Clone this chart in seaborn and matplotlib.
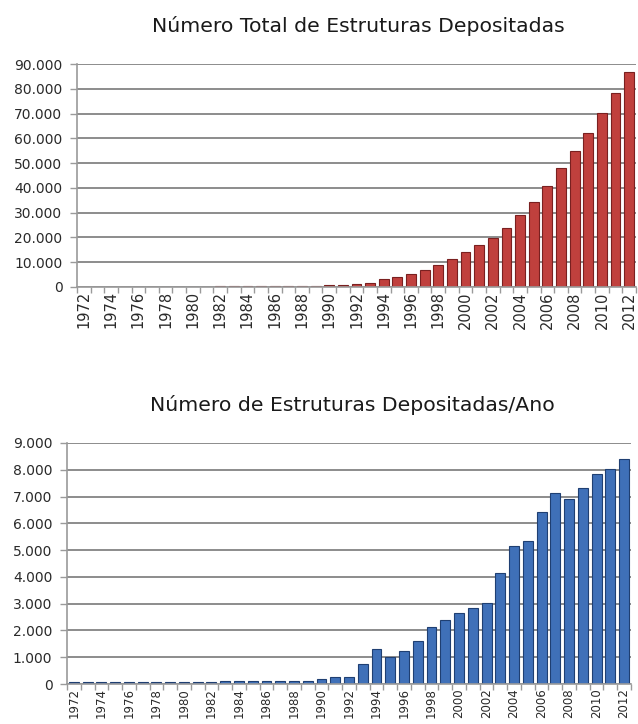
import matplotlib
matplotlib.use("Agg")
import matplotlib.pyplot as plt
import seaborn as sns
import pandas as pd
import numpy as np
from matplotlib.ticker import FuncFormatter, FixedLocator

years = [str(y) for y in range(1972, 2013)]

total_structures = [13, 20, 30, 40, 60, 80, 100, 120, 150, 180, 210, 250, 290, 330,
                    380, 430, 500, 600, 800, 950, 1200, 1750, 3300, 4200, 5200, 6900,
                    8900, 11300, 14000, 16800, 19800, 24000, 29000, 34300, 40900,
                    48000, 54900, 62200, 70400, 78200, 86700]

yearly_structures = [60, 60, 70, 70, 80, 80, 80, 80, 90, 90, 90, 100, 100, 100, 100,
                     100, 100, 110, 200, 250, 250, 750, 1320, 1000, 1220, 1610, 2110,
                     2400, 2660, 2850, 3040, 4160, 5160, 5340, 6440, 7150, 6920,
                     7320, 7850, 8020, 8400]

title_top = "Número Total de Estruturas Depositadas"
title_bottom = "Número de Estruturas Depositadas/Ano"

sns.set_style("white")
plt.rcParams['font.family'] = ['DejaVu Sans']

W, H = 638, 724
fig = plt.figure(figsize=(W / 100, H / 100), dpi=100)
fig.patch.set_facecolor("white")

def fmt(v, pos):
    return f"{int(round(v)):,}".replace(",", ".")

def style_axes(ax, ymax, step, xfs, xpad):
    ax.set_ylim(0, ymax)
    ax.set_xlim(-0.5, len(years) - 0.5)
    ax.set_yticks(np.arange(0, ymax + 1, step))
    ax.yaxis.set_major_formatter(FuncFormatter(fmt))
    ax.grid(axis="y", color="#8c8c8c", linewidth=1.4)
    ax.grid(axis="x", visible=False)
    ax.set_axisbelow(True)
    for s in ["top", "right"]:
        ax.spines[s].set_visible(False)
    for s in ["left", "bottom"]:
        ax.spines[s].set_color("#9a9a9a")
        ax.spines[s].set_linewidth(1.2)
    ax.set_xticks(range(0, len(years), 2))
    ax.set_xticklabels(years[::2], rotation=90, fontsize=xfs, color="#2a2a2a")
    ax.xaxis.set_minor_locator(FixedLocator(np.arange(-0.5, len(years), 1)))
    ax.tick_params(axis="x", which="major", length=0, pad=xpad)
    ax.tick_params(axis="x", which="minor", length=4, width=1, color="#9a9a9a",
                   bottom=True)
    ax.tick_params(axis="y", length=5, width=1, color="#9a9a9a", labelsize=10,
                   labelcolor="#2a2a2a", left=True, pad=5.5)
    ax.set_xlabel("")
    ax.set_ylabel("")

# Top chart
ax1 = fig.add_axes([77 / W, 1 - 287 / H, (636 - 77) / W, (287 - 64) / H])
df1 = pd.DataFrame({"ano": years, "total": total_structures})
sns.barplot(data=df1, x="ano", y="total", color="#c0403d", edgecolor="#7a2020",
            linewidth=0.8, width=0.72, saturation=1, ax=ax1)
style_axes(ax1, 90000, 10000, 10.5, 3)

# Bottom chart
ax2 = fig.add_axes([67 / W, 1 - 684 / H, (631 - 67) / W, (684 - 443) / H])
df2 = pd.DataFrame({"ano": years, "anual": yearly_structures})
sns.barplot(data=df2, x="ano", y="anual", color="#3f70b8", edgecolor="#1f3f72",
            linewidth=0.8, width=0.72, saturation=1, ax=ax2)
style_axes(ax2, 9000, 1000, 8.5, 3)

fig.text(358 / W, 1 - 32 / H, title_top, ha="center", va="baseline",
         fontsize=14.7, color="#1a1a1a")
fig.text(352 / W, 1 - 411 / H, title_bottom, ha="center", va="baseline",
         fontsize=14.7, color="#1a1a1a")

fig.savefig("out.png", dpi=100)
